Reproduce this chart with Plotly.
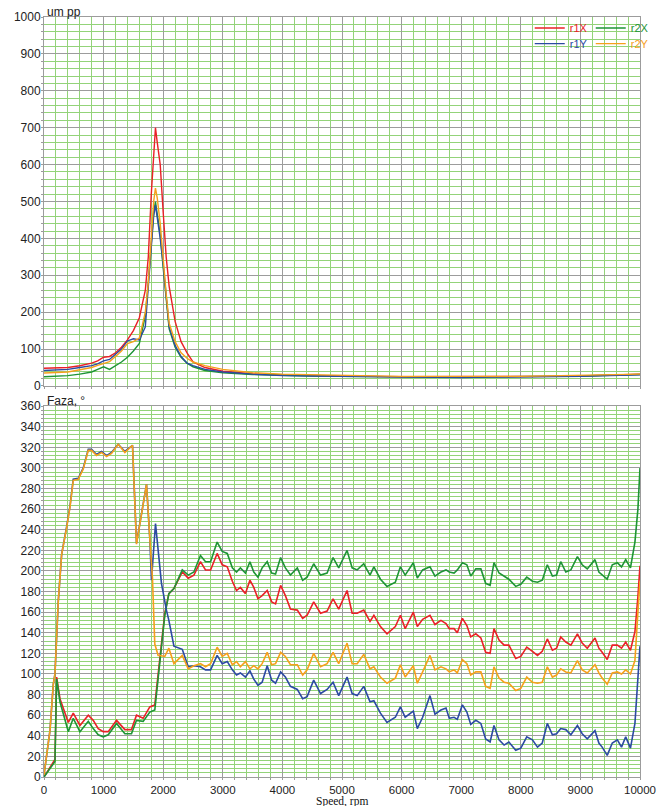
import plotly.graph_objects as go

# ---------------- amplitude (top) ----------------
amp_rpm = [0, 200, 400, 600, 800, 900, 1000, 1100, 1200, 1300, 1400, 1500, 1600, 1700, 1750, 1800,
           1840, 1870, 1900, 1950, 2000, 2050, 2100, 2200, 2300, 2400, 2500, 2700, 3000, 3500, 4000,
           4500, 5000, 5500, 6000, 6500, 7000, 7500, 8000, 8500, 9000, 9500, 10000]
amp_r1x = [48, 48, 50, 55, 62, 68, 78, 80, 90, 105, 125, 150, 185, 260, 350, 520, 640, 700, 660, 600,
           470, 350, 270, 175, 120, 90, 65, 50, 40, 33, 30, 28, 27, 26, 25, 25, 24, 25, 25, 26, 27, 30, 32]
amp_r2x = [25, 26, 28, 32, 38, 45, 52, 45, 55, 65, 78, 95, 115, 190, 280, 380, 470, 500, 470, 410,
           320, 230, 155, 105, 78, 62, 52, 42, 36, 31, 28, 27, 26, 25, 25, 24, 24, 25, 25, 26, 27, 29, 31]
amp_r1y = [42, 43, 45, 50, 55, 60, 68, 72, 85, 100, 122, 128, 125, 160, 270, 380, 460, 490, 460, 400,
           330, 240, 160, 110, 80, 62, 55, 45, 38, 32, 28, 27, 26, 25, 24, 24, 23, 24, 24, 25, 26, 28, 30]
amp_r2y = [35, 36, 38, 44, 50, 56, 62, 66, 80, 95, 115, 120, 130, 200, 280, 400, 500, 536, 510, 440,
           340, 250, 170, 120, 90, 75, 65, 55, 45, 36, 32, 30, 28, 27, 26, 26, 25, 26, 26, 27, 28, 30, 32]

# ---------------- phase (bottom) ----------------
# shared speeds for the oscillating part (2095 rpm .. 10000 rpm)
ph_rpm_tail = [2095, 2180, 2320, 2420, 2515, 2625, 2710, 2795, 2905, 2990, 3075, 3160, 3230, 3295,
               3380, 3455, 3520, 3590, 3660, 3745, 3820, 3885, 3970, 4050, 4135, 4250, 4340, 4415,
               4525, 4640, 4750, 4850, 4945, 5085, 5170, 5255, 5365, 5470, 5535, 5645, 5755, 5895,
               5980, 6060, 6197, 6264, 6353, 6476, 6560,
               6660, 6745, 6800, 6880, 6935, 7020, 7095, 7160, 7245, 7330, 7410, 7485, 7550, 7635,
               7720, 7800, 7915, 8000, 8100, 8195, 8280, 8360, 8445, 8530, 8600, 8670, 8755, 8840,
               8950, 9030, 9115, 9245, 9310, 9365, 9450, 9535, 9620, 9690, 9760, 9840, 9915, 9965, 10000]
ph_r2x_tail = [178, 183, 201, 196, 199, 215, 209, 209, 228, 219, 217, 203, 199, 203, 198, 209, 199, 194,
               203, 209, 198, 197, 213, 203, 196, 203, 191, 194, 207, 196, 198, 213, 203, 220, 203, 201,
               207, 196, 204, 192, 185, 189, 204, 196, 208, 193, 201, 204, 195,
               199, 201, 199, 198, 201, 208, 206, 195, 202, 202, 188, 186, 208, 198, 195, 192, 185, 187,
               194, 190, 189, 191, 206, 195, 196, 209, 199, 201, 214, 206, 202, 211, 199, 196, 192, 206,
               208, 204, 211, 203, 228, 260, 300]
ph_r1x_tail = [178, 183, 199, 193, 196, 209, 201, 201, 217, 206, 204, 190, 181, 184, 178, 191, 184, 173,
               176, 181, 170, 168, 186, 176, 163, 162, 154, 157, 170, 159, 161, 173, 163, 181, 159, 159,
               162, 151, 157, 146, 139, 146, 157, 144, 160, 146, 153, 157, 148,
               152, 149, 144, 144, 140, 154, 147, 136, 139, 135, 121, 120, 144, 133, 128, 128, 115, 117,
               126, 122, 118, 122, 134, 123, 125, 136, 131, 128, 139, 130, 125, 135, 125, 121, 114, 128,
               128, 125, 131, 123, 141, 175, 205]
ph_r2y_tail = [125, 110, 118, 105, 108, 110, 107, 110, 126, 117, 120, 109, 112, 107, 112, 105, 108, 105,
               110, 121, 109, 110, 121, 117, 109, 109, 99, 104, 120, 107, 110, 121, 110, 130, 110, 110,
               119, 105, 107, 97, 91, 96, 109, 97, 108, 91, 102, 118, 104,
               107, 105, 102, 104, 101, 114, 110, 99, 102, 102, 88, 86, 107, 96, 92, 91, 84, 86, 97, 92,
               91, 92, 107, 97, 99, 105, 102, 101, 113, 104, 101, 109, 101, 96, 90, 101, 102, 100, 104,
               100, 113, 160, 190]
ph_r1y_tail = [152, 127, 124, 107, 108, 107, 104, 104, 118, 110, 112, 104, 99, 101, 97, 103, 95, 89, 92,
               108, 94, 91, 102, 97, 88, 85, 76, 78, 94, 81, 85, 92, 79, 97, 81, 79, 88, 73, 74, 62, 53,
               58, 68, 58, 64, 47, 58, 79, 61,
               65, 67, 57, 58, 56, 70, 63, 51, 55, 52, 37, 34, 50, 36, 31, 34, 26, 28, 39, 36, 29, 33, 52,
               41, 42, 47, 46, 41, 50, 42, 37, 45, 33, 29, 21, 33, 36, 29, 39, 28, 52, 97, 127]

# low-speed parts
ph_rpm_x_head = [0, 184, 212, 268, 408, 491, 603, 743, 826, 910, 994, 1078, 1217, 1357, 1468, 1552,
                 1664, 1775, 1859, 1943, 2027]
ph_r1x_head = [0, 17, 97, 76, 53, 62, 50, 60, 55, 47, 44, 44, 55, 46, 46, 60, 57, 68, 70, 114, 159]
ph_r2x_head = [0, 15, 95, 73, 44, 57, 44, 54, 47, 41, 39, 41, 52, 42, 42, 55, 54, 63, 65, 110, 157]

ph_rpm_r2y_head = [0, 100, 156, 184, 240, 296, 380, 436, 491, 575, 659, 743, 798, 882, 966, 1050, 1133,
                   1245, 1357, 1485, 1552, 1640, 1720, 1775, 1820, 1859, 1915, 1943, 2027]
ph_r2y_head = [2, 45, 90, 100, 171, 216, 242, 262, 288, 289, 299, 317, 317, 312, 315, 311, 314, 323, 315,
               322, 226, 255, 284, 232, 193, 129, 118, 118, 117]

ph_rpm_r1y_head = [0, 100, 156, 184, 240, 296, 380, 436, 491, 575, 659, 743, 798, 882, 966, 1050, 1133,
                   1245, 1357, 1485, 1552, 1640, 1720, 1775, 1803, 1871, 1915, 1971, 2054]
ph_r1y_head = [2, 45, 90, 100, 171, 216, 243, 263, 289, 290, 300, 318, 318, 313, 316, 312, 315, 323, 316,
               322, 227, 256, 284, 232, 191, 246, 221, 188, 162]

names = ["r1X", "r2X", "r1Y", "r2Y"]
colors = ["#ea2027", "#1e9436", "#2c4aa3", "#f6a01c"]
legend_ids = ["legend", "legend", "legend2", "legend2"]

amp = [amp_r1x, amp_r2x, amp_r1y, amp_r2y]
ph_x = [ph_rpm_x_head + ph_rpm_tail, ph_rpm_x_head + ph_rpm_tail,
        ph_rpm_r1y_head + ph_rpm_tail, ph_rpm_r2y_head + ph_rpm_tail]
ph_y = [ph_r1x_head + ph_r1x_tail, ph_r2x_head + ph_r2x_tail,
        ph_r1y_head + ph_r1y_tail, ph_r2y_head + ph_r2y_tail]

fig = go.Figure()
for n, c, a, lg in zip(names, colors, amp, legend_ids):
    fig.add_trace(go.Scatter(x=amp_rpm, y=a, mode="lines", line=dict(color=c, width=1.4),
                             name=f"<span style='color:{c}'>{n}</span>", legend=lg,
                             xaxis="x", yaxis="y"))
for n, c, xx, yy in zip(names, colors, ph_x, ph_y):
    fig.add_trace(go.Scatter(x=xx, y=yy, mode="lines", line=dict(color=c, width=1.6),
                             name=n, showlegend=False, xaxis="x2", yaxis="y2"))

GREEN = "#93d379"
GRAY = "#9c9c9c"
tickfont = dict(family="Liberation Sans, Arial", size=12, color="#222")
xtickfont = dict(family="Liberation Sans, Arial", size=11.5, color="#222")

xcommon = dict(range=[0, 10000], dtick=1000, tick0=0, tickformat="d", showgrid=True, gridcolor=GRAY,
               gridwidth=1, zeroline=False, showline=True, linecolor=GRAY, mirror=True,
               minor=dict(dtick=200, showgrid=True, gridcolor=GREEN, gridwidth=1,
                          ticks="outside", ticklen=2, tickcolor=GRAY),
               ticks="outside", ticklen=2, tickcolor=GRAY, tickfont=xtickfont)

ycommon = dict(showgrid=True, gridcolor=GRAY, zeroline=False, showline=True, linecolor=GRAY,
               mirror=True, ticks="outside", ticklen=2, tickcolor=GRAY, tickfont=tickfont,
               ticklabelstandoff=-2)

legcommon = dict(orientation="h", xanchor="left", yanchor="middle", entrywidth=16,
                 entrywidthmode="pixels", bgcolor="rgba(0,0,0,0)", borderwidth=0,
                 font=dict(family="Liberation Sans, Arial", size=11))

fig.update_layout(
    width=670, height=806,
    margin=dict(l=44, r=30, t=17, b=29, autoexpand=False),
    paper_bgcolor="white", plot_bgcolor="white",
    showlegend=True,
    legend=dict(legcommon, x=0.815, y=0.9855),
    legend2=dict(legcommon, x=0.815, y=0.965),
    xaxis=dict(xcommon, anchor="y", domain=[0, 1], showticklabels=False),
    yaxis=dict(ycommon, range=[0, 1000], dtick=100, domain=[0.5145, 1], anchor="x",
               minor=dict(dtick=20, showgrid=True, gridcolor=GREEN, ticks="outside", ticklen=2,
                          tickcolor=GRAY)),
    xaxis2=dict(xcommon, anchor="y2", domain=[0, 1], matches="x"),
    yaxis2=dict(ycommon, range=[0, 360], dtick=20, domain=[0, 0.488], anchor="x2",
                minor=dict(dtick=4, showgrid=True, gridcolor=GREEN, ticks="outside", ticklen=2,
                           tickcolor=GRAY)),
    annotations=[
        dict(text="um pp", xref="paper", yref="paper", x=0.0, y=1.0, xanchor="left", yanchor="bottom",
             showarrow=False, font=dict(family="Liberation Sans, Arial", size=12, color="#222"),
             xshift=1, yshift=-4),
        dict(text="Faza, °", xref="paper", yref="paper", x=0.0, y=0.488, xanchor="left",
             yanchor="bottom", showarrow=False,
             font=dict(family="Liberation Sans, Arial", size=12, color="#222"), xshift=1, yshift=-4),
        dict(text="Speed, rpm", xref="paper", yref="paper", x=0.5, y=0.0, xanchor="center",
             yanchor="top", showarrow=False, yshift=-16,
             font=dict(family="Liberation Serif, Times New Roman", size=11.5, color="#111")),
    ],
)

fig.write_html("out.html")
